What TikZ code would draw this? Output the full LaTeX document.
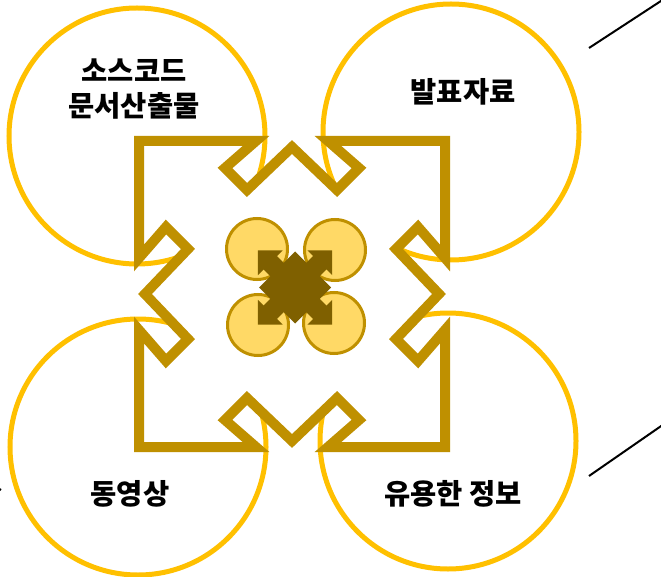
\documentclass[tikz,border=0pt]{standalone}
\usepackage{fontspec}
\newfontfamily\krfont{Noto Sans CJK KR}
\usepackage{xcolor}
\definecolor{ringyellow}{HTML}{FFC000}
\definecolor{framegold}{HTML}{BF9000}
\definecolor{petalgold}{HTML}{FFD966}
\definecolor{hubbrown}{HTML}{7F6000}

\begin{document}
\begin{tikzpicture}[x=1pt, y=-1pt,
  ring/.style={circle, draw=ringyellow, line width=5pt, fill=white,
               minimum size=256pt, inner sep=0pt},
  petal/.style={circle, draw=framegold, line width=3pt, fill=petalgold,
                minimum size=61pt, inner sep=0pt},
  lbl/.style={font=\krfont\bfseries\fontsize{28.5}{35}\selectfont,
              align=center, inner sep=0pt},
  frm/.style={draw=framegold, line width=10pt, fill=white, line join=miter},
  lead/.style={draw=black, line width=2pt}]
  \useasboundingbox (0,0) rectangle (661,577);
  \clip (0,0) rectangle (661,577);
  % leader lines running off the page
  \coordinate (ne) at (589,48);
  \coordinate (neout) at (690,-18);
  \coordinate (se) at (589,476);
  \coordinate (seout) at (690,406);
  \coordinate (sw) at (1,490);
  \coordinate (swout) at (-12,482);
  \draw[lead] (ne) -- (neout);
  \draw[lead] (se) -- (seout);
  \draw[lead] (sw) -- (swout);
  % four big circles
  \node[ring] (src) at (137,136) {};
  \node[ring] (pres) at (451,132) {};
  \node[ring] (vid) at (138,447) {};
  \node[ring] (info) at (448,441) {};
  % notched frame
  \begin{scope}[shift={(292,294)}]
    \draw[frm] (-153,-153)
      -- (-36,-153) -- (-67,-126) -- (-45,-104) -- (0,-147)
      -- (45,-104) -- (67,-126) -- (36,-153) -- (153,-153)
      -- (153,-36) -- (126,-67) -- (104,-45) -- (147,0)
      -- (104,45) -- (126,67) -- (153,36) -- (153,153)
      -- (36,153) -- (67,126) -- (45,104) -- (0,147)
      -- (-45,104) -- (-67,126) -- (-36,153) -- (-153,153)
      -- (-153,36) -- (-126,67) -- (-104,45) -- (-147,0)
      -- (-104,-45) -- (-126,-67) -- (-153,-36) -- cycle;
  \end{scope}
  % small circles
  \node[petal] (p1) at (257,249) {};
  \node[petal] (p2) at (335,250) {};
  \node[petal] (p3) at (258,325) {};
  \node[petal] (p4) at (334,323) {};
  % four-way arrow
  \begin{scope}[shift={(295,287.5)}]
    \fill[hubbrown] (0,-36) -- (36,0) -- (0,36) -- (-36,0) -- cycle;
    \foreach \a in {45,135,225,315} {
      \fill[hubbrown, rotate=\a] (24,-9.5) rectangle (35.5,9.5);
      \fill[hubbrown, rotate=\a] (35,-17.5) -- (52.5,0) -- (35,17.5) -- cycle;
    }
  \end{scope}
  % labels
  \node[lbl] (srctxt) at (134,89) {소스코드\\문서산출물};
  \node[lbl] (prestxt) at (463,92) {발표자료};
  \node[lbl] (vidtxt) at (130,494) {동영상};
  \node[lbl] (infotxt) at (453,494) {유용한 정보};
\end{tikzpicture}
\end{document}
